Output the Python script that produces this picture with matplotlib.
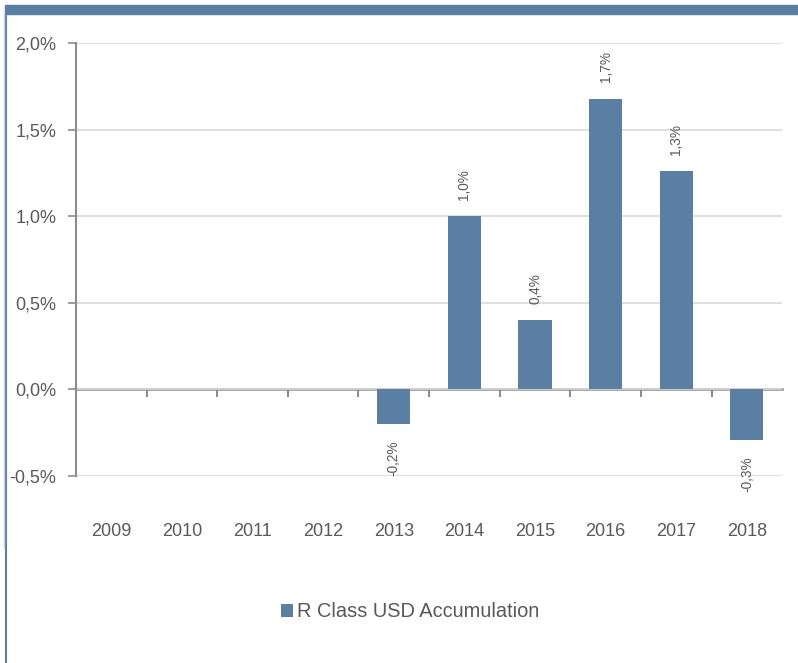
import matplotlib.pyplot as plt
from matplotlib.patches import Rectangle
from matplotlib.lines import Line2D

plt.rcParams['font.family'] = ['Liberation Sans', 'DejaVu Sans']

years = ['2009', '2010', '2011', '2012', '2013', '2014', '2015', '2016', '2017', '2018']
returns = [0.0, 0.0, 0.0, 0.0, -0.2, 1.0, 0.4, 1.68, 1.26, -0.29]
labels = ['', '', '', '', '-0,2%', '1,0%', '0,4%', '1,7%', '1,3%', '-0,3%']
yticks = [-0.5, 0.0, 0.5, 1.0, 1.5, 2.0]
ytick_labels = ['-0,5%', '0,0%', '0,5%', '1,0%', '1,5%', '2,0%']

bar_color = '#5b7fa3'
text_color = '#595959'
axis_color = '#8c8c8c'

fig = plt.figure(figsize=(7.98, 6.63), dpi=100)
ax = fig.add_axes([0.0952, 0.282, 0.885, 0.653])

x = list(range(len(years)))
ax.bar(x, returns, width=0.47, color=bar_color, label='R Class USD Accumulation', zorder=3)

for xi, v, lab in zip(x, returns, labels):
    if not lab:
        continue
    if v >= 0:
        ax.annotate(lab, (xi, v), xytext=(0, 12), textcoords='offset points',
                    rotation=90, ha='center', va='bottom', fontsize=9.8, color=text_color)
    else:
        ax.annotate(lab, (xi, v), xytext=(0, -12), textcoords='offset points',
                    rotation=90, ha='center', va='top', fontsize=9.8, color=text_color)

ax.set_xlim(-0.5, len(years) - 0.5)
ax.set_ylim(-0.5, 2.0)
ax.set_yticks(yticks, ytick_labels)
ax.grid(axis='y', color='#d9d9d9', linewidth=1.2, zorder=0)
ax.tick_params(axis='y', colors=axis_color, labelcolor=text_color, labelsize=13,
               length=6, width=1.2, pad=8)
ax.set_xticks(x, years)
ax.tick_params(axis='x', length=0, labelsize=13, labelcolor=text_color, pad=33.5)

for side in ['top', 'right', 'bottom']:
    ax.spines[side].set_visible(False)
ax.spines['left'].set_color(axis_color)
ax.spines['left'].set_linewidth(1.5)

# zero line with category boundary ticks
zero_frac = (0 - (-0.5)) / 2.5
sec = ax.secondary_xaxis(zero_frac)
sec.set_xticks([i + 0.5 for i in range(len(years) - 1)], [''] * (len(years) - 1))
sec.tick_params(axis='x', direction='out', length=6, width=1.5, colors=axis_color)
sec.spines['bottom'].set_color(axis_color)
sec.spines['bottom'].set_linewidth(1.8)

fig.legend(loc='center', bbox_to_anchor=(0.514, 0.077), frameon=False,
           fontsize=14.4, labelcolor=text_color, handlelength=0.6, handleheight=0.6,
           handletextpad=0.2)

# frame decorations
W, H = 798, 663
fig.patches.append(Rectangle((5 / W, 1 - 14 / H), 1 - 5 / W, 9 / H,
                             transform=fig.transFigure, color=bar_color))
fig.lines.append(Line2D([6 / W, 6 / W], [0, 1 - 14 / H], transform=fig.transFigure,
                        color=bar_color, linewidth=1.5))
fig.lines.append(Line2D([3.5 / W, 3.5 / W], [1 - 548 / H, 1 - 14 / H],
                        transform=fig.transFigure, color='#c8d3df', linewidth=1))

fig.savefig('out.png', dpi=100)
